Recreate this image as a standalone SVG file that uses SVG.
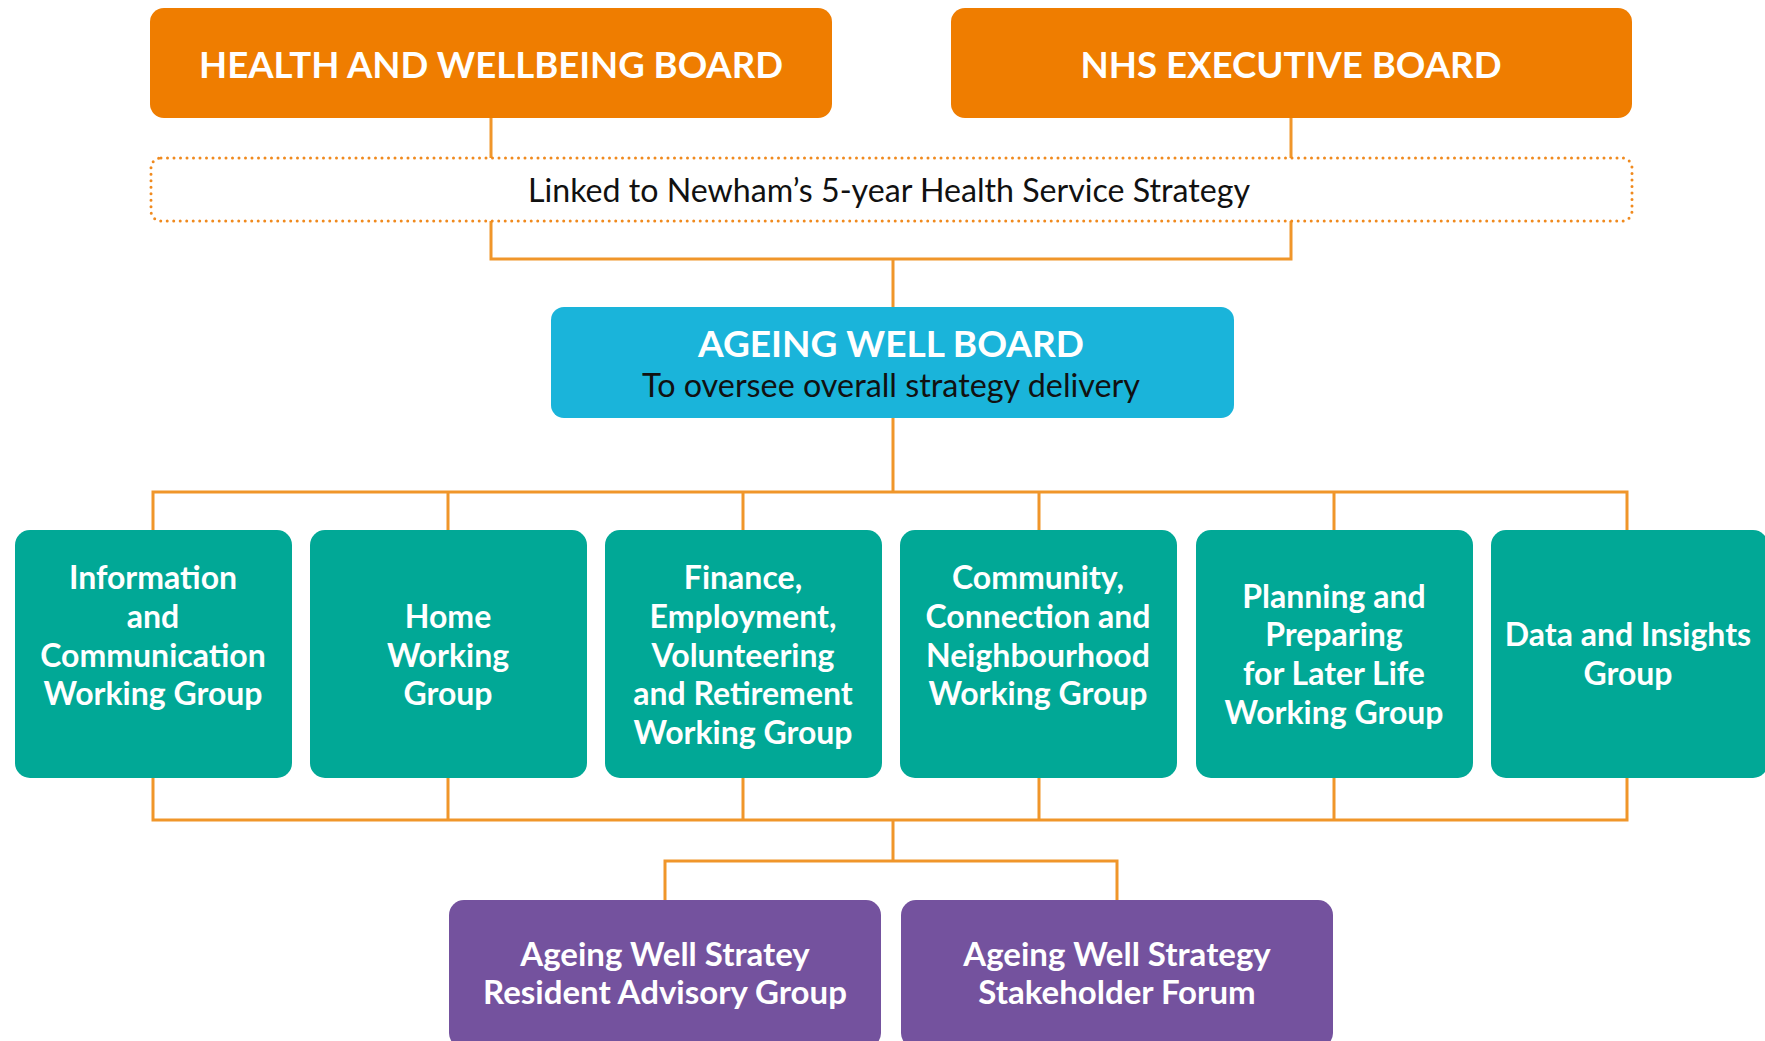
<svg xmlns="http://www.w3.org/2000/svg" width="1765" height="1041" viewBox="0 0 1765 1041">
<style>
.conn{fill:none;stroke:#F0962A;stroke-width:3;}
.orange{fill:#EF7D00;}
.blue{fill:#1AB4DA;}
.teal{fill:#01A896;}
.purple{fill:#74529E;}
.dotted{fill:none;stroke:#F08A1E;stroke-width:3;stroke-dasharray:0 6.5;stroke-linecap:round;}
text{font-family:Lato,"Open Sans","Liberation Sans",sans-serif;text-anchor:middle;}
.title{font-size:36px;font-weight:700;fill:#fff;}
.lbl{font-size:32px;font-weight:700;fill:#fff;}
.plbl{font-size:33px;font-weight:700;fill:#fff;}
.reg{font-size:32px;font-weight:400;fill:#111;}
</style>
<rect width="1765" height="1041" fill="#fff"/>
<g id="connectors">
<path class="conn" d="M491 117V158M1291 117V158"/>
<path class="conn" d="M491 221V259H1291V221M893 259V307"/>
<path class="conn" d="M893 418V492M153 530V492H1627V530M448 492V530M743 492V530M1039 492V530M1334 492V530"/>
<path class="conn" d="M153 778V820H1627V778M448 778V820M743 778V820M1039 778V820M1334 778V820"/>
<path class="conn" d="M893 820V861M665 900V861H1117V900"/>
</g>
<g id="hwb">
<rect class="orange" x="150" y="8" width="682" height="110" rx="14"/>
<text class="title" x="491" y="78" textLength="584" lengthAdjust="spacingAndGlyphs">HEALTH AND WELLBEING BOARD</text>
</g>
<g id="nhs">
<rect class="orange" x="951" y="8" width="681" height="110" rx="14"/>
<text class="title" x="1291" y="78" textLength="421" lengthAdjust="spacingAndGlyphs">NHS EXECUTIVE BOARD</text>
</g>
<g id="strategy">
<rect class="dotted" x="151" y="158" width="1481" height="63" rx="10"/>
<text class="reg" x="889" y="202" textLength="722" lengthAdjust="spacingAndGlyphs">Linked to Newham’s 5-year Health Service Strategy</text>
</g>
<g id="awb">
<rect class="blue" x="551" y="307" width="683" height="111" rx="13"/>
<text class="title" x="891" y="357" textLength="386" lengthAdjust="spacingAndGlyphs">AGEING WELL BOARD</text>
<text class="reg" x="891" y="397" textLength="498" lengthAdjust="spacingAndGlyphs">To oversee overall strategy delivery</text>
</g>
<g id="wg1">
<rect class="teal" x="15" y="530" width="277" height="248" rx="15"/>
<text class="lbl" x="153" y="589">Information</text>
<text class="lbl" x="153" y="628">and</text>
<text class="lbl" x="153" y="667">Communication</text>
<text class="lbl" x="153" y="705">Working Group</text>
</g>
<g id="wg2">
<rect class="teal" x="310" y="530" width="277" height="248" rx="15"/>
<text class="lbl" x="448" y="628">Home</text>
<text class="lbl" x="448" y="667">Working</text>
<text class="lbl" x="448" y="705">Group</text>
</g>
<g id="wg3">
<rect class="teal" x="605" y="530" width="277" height="248" rx="15"/>
<text class="lbl" x="743" y="589">Finance,</text>
<text class="lbl" x="743" y="628">Employment,</text>
<text class="lbl" x="743" y="667">Volunteering</text>
<text class="lbl" x="743" y="705">and Retirement</text>
<text class="lbl" x="743" y="744">Working Group</text>
</g>
<g id="wg4">
<rect class="teal" x="900" y="530" width="277" height="248" rx="15"/>
<text class="lbl" x="1038" y="589">Community,</text>
<text class="lbl" x="1038" y="628">Connection and</text>
<text class="lbl" x="1038" y="667">Neighbourhood</text>
<text class="lbl" x="1038" y="705">Working Group</text>
</g>
<g id="wg5">
<rect class="teal" x="1196" y="530" width="277" height="248" rx="15"/>
<text class="lbl" x="1334" y="608">Planning and</text>
<text class="lbl" x="1334" y="646">Preparing</text>
<text class="lbl" x="1334" y="685">for Later Life</text>
<text class="lbl" x="1334" y="724">Working Group</text>
</g>
<g id="wg6">
<rect class="teal" x="1491" y="530" width="277" height="248" rx="15"/>
<text class="lbl" x="1628" y="646">Data and Insights</text>
<text class="lbl" x="1628" y="685">Group</text>
</g>
<g id="rag">
<rect class="purple" x="449" y="900" width="432" height="148" rx="15"/>
<text class="plbl" x="665" y="966">Ageing Well Stratey</text>
<text class="plbl" x="665" y="1004">Resident Advisory Group</text>
</g>
<g id="forum">
<rect class="purple" x="901" y="900" width="432" height="148" rx="15"/>
<text class="plbl" x="1117" y="966">Ageing Well Strategy</text>
<text class="plbl" x="1117" y="1004">Stakeholder Forum</text>
</g>
</svg>
